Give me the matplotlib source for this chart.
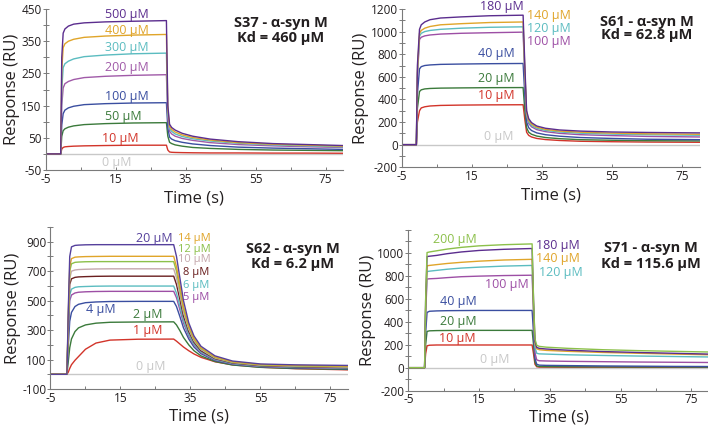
import matplotlib
matplotlib.use("Agg")
import matplotlib.pyplot as plt
from matplotlib.ticker import MultipleLocator, FixedLocator

plt.rcParams['font.family'] = ['Open Sans', 'DejaVu Sans']
plt.rcParams['axes.unicode_minus'] = False

# ---------------- colours ----------------
RED = '#d2342a'; GREEN = '#3b7a3b'; BLUE = '#3a4ea0'; PINKPUR = '#a05aa8'
TEAL = '#5bbcc0'; GOLD = '#e0a52a'; DKPUR = '#5b2d8e'; GRAY = '#c8c8c8'
LTGREEN = '#8cc04a'; PINKGRAY = '#c4a8ac'; MAROON = '#6a1e1e'; PUR = '#9d4fa5'
TXT = '#231f20'

# ---------------- S37 ----------------
s37_t = [-5, -0.7, -0.4, 0, 0.5, 1.5, 3, 6, 12, 20, 29.5, 29.9, 30.4, 31, 32, 34, 37, 42, 50, 60, 70, 80]
s37_labels = ['10 µM', '50 µM', '100 µM', '200 µM', '300 µM', '400 µM', '500 µM']
s37_curves = [
    [0, 0, 15, 20, 22, 23, 24, 25, 26, 27, 27, 12, 6, 5, 4.5, 4, 3.5, 3, 3, 2.5, 2.5, 2],
    [0, 0, 55, 72, 78, 83, 87, 91, 94, 96, 97, 55, 36, 32, 28, 24, 20, 17, 14, 12, 11, 10],
    [0, 0, 90, 125, 136, 143, 148, 153, 156, 158, 159, 80, 52, 46, 41, 36, 31, 26, 21, 18, 16, 14],
    [0, 0, 150, 205, 218, 225, 231, 237, 241, 244, 246, 110, 70, 62, 55, 48, 42, 35, 29, 25, 22, 20],
    [0, 0, 200, 268, 280, 288, 295, 302, 307, 311, 313, 125, 78, 70, 62, 54, 47, 40, 33, 28, 25, 22],
    [0, 0, 260, 330, 342, 350, 356, 362, 366, 369, 371, 140, 85, 76, 68, 59, 51, 43, 35, 30, 27, 24],
    [0, 0, 300, 375, 388, 397, 403, 407, 410, 412, 414, 150, 92, 82, 74, 64, 55, 46, 38, 32, 29, 26],
]
s37_colors = [RED, GREEN, BLUE, PINKPUR, TEAL, GOLD, DKPUR]
s37_label_x = [11, 12, 12, 12, 12, 12, 12]
s37_label_y = [49, 117, 179, 268, 330, 382, 432]
s37_label_size = [9, 9, 9, 9, 9, 9, 9]

# ---------------- S61 ----------------
s61_t = [-5, -0.9, -0.6, 0, 0.5, 1.5, 3, 6, 12, 20, 29.6, 30.1, 30.6, 31.2, 32, 33.5, 36, 40, 46, 55, 65, 80]
s61_labels = ['10 µM', '20 µM', '40 µM', '100 µM', '120 µM', '140 µM', '180 µM']
s61_curves = [
    [0, 0, 200, 300, 325, 335, 342, 347, 350, 352, 353, 220, 110, 82, 68, 55, 45, 37, 30, 26, 23, 21],
    [0, 0, 320, 470, 485, 493, 497, 500, 502, 504, 505, 300, 150, 110, 92, 76, 63, 53, 44, 39, 35, 33],
    [0, 0, 450, 670, 690, 700, 705, 710, 713, 716, 718, 430, 200, 150, 125, 104, 88, 75, 63, 55, 48, 44],
    [0, 0, 600, 930, 950, 962, 970, 978, 985, 990, 995, 590, 250, 188, 158, 133, 115, 100, 88, 80, 73, 68],
    [0, 0, 630, 960, 985, 1000, 1010, 1020, 1030, 1038, 1042, 620, 265, 200, 170, 145, 126, 112, 101, 93, 88, 83],
    [0, 0, 650, 985, 1010, 1030, 1045, 1060, 1070, 1080, 1085, 650, 280, 215, 182, 155, 135, 120, 110, 102, 96, 92],
    [0, 0, 700, 1020, 1060, 1085, 1105, 1120, 1130, 1140, 1145, 700, 300, 230, 195, 165, 145, 130, 120, 112, 108, 104],
]
s61_colors = [RED, GREEN, BLUE, PUR, TEAL, GOLD, DKPUR]
s61_label_x = [16.6, 16.6, 16.6, 30.8, 30.8, 30.7, 17.2]
s61_label_y = [433, 587, 809, 912, 1031, 1144, 1224]
s61_label_size = [9, 9, 9, 9, 9, 9, 9]

# ---------------- S62 ----------------
s62_t = [-5, -0.3, 0.1, 0.5, 1, 2, 3, 5, 8, 12, 20, 30.2, 31, 32, 33, 34.5, 36, 38, 42, 47, 55, 65, 80]
s62_labels = ['1 µM', '2 µM', '4 µM', '5 µM', '6 µM', '8 µM', '10 µM', '12 µM', '14 µM', '20 µM']
s62_curves = [
    [0, 0, 15, 40, 65, 95, 120, 170, 212, 232, 238, 239, 225, 205, 185, 160, 138, 115, 85, 64, 48, 38, 30],
    [0, 0, 90, 180, 240, 290, 315, 335, 347, 353, 355, 356, 335, 295, 250, 200, 160, 125, 87, 63, 47, 39, 33],
    [0, 0, 200, 360, 420, 460, 475, 486, 491, 494, 495, 495, 460, 390, 315, 240, 185, 140, 94, 68, 51, 43, 37],
    [0, 0, 280, 500, 538, 552, 557, 560, 562, 563, 563, 563, 520, 435, 348, 260, 198, 147, 98, 71, 53, 46, 40],
    [0, 0, 300, 540, 578, 590, 594, 596, 598, 599, 599, 599, 550, 460, 365, 270, 205, 152, 101, 73, 55, 48, 42],
    [0, 0, 340, 610, 648, 658, 661, 663, 665, 666, 666, 666, 610, 505, 395, 290, 218, 160, 106, 77, 58, 51, 45],
    [0, 0, 370, 650, 700, 708, 711, 713, 715, 716, 716, 716, 655, 540, 420, 305, 228, 168, 110, 80, 61, 54, 48],
    [0, 0, 390, 700, 750, 760, 762, 764, 765, 765, 765, 765, 700, 575, 445, 320, 238, 175, 115, 83, 64, 57, 52],
    [0, 0, 410, 730, 785, 795, 797, 799, 800, 801, 801, 801, 730, 600, 460, 330, 245, 180, 118, 85, 66, 60, 55],
    [0, 0, 450, 800, 865, 875, 877, 879, 880, 880, 880, 880, 800, 650, 500, 350, 260, 190, 125, 90, 70, 64, 60],
]
s62_colors = [RED, GREEN, BLUE, PUR, TEAL, MAROON, PINKGRAY, LTGREEN, GOLD, '#55409c']
s62_label_x = [18.7, 18.7, 5.1, 32.9, 32.9, 32.9, 31.5, 31.5, 31.5, 19.4]
s62_label_y = [299, 405, 441, 522, 602, 688, 777, 849, 925, 925]
s62_label_size = [9, 9, 9, 8, 8, 8, 8, 8, 8, 9]

# ---------------- S71 ----------------
s71_t = [-5, -0.4, -0.1, 0.3, 1, 3, 6, 10, 15, 22, 30, 30.4, 30.8, 31.3, 32, 34, 40, 50, 60, 70, 80]
s71_labels = ['10 µM', '20 µM', '40 µM', '100 µM', '120 µM', '140 µM', '180 µM', '200 µM']
s71_curves = [
    [0, 0, 120, 190, 195, 197, 197, 197, 197, 197, 197, 120, 30, 8, 5, 5, 4, 4, 3, 3, 3],
    [0, 0, 200, 315, 320, 322, 323, 324, 324, 324, 324, 200, 50, 15, 10, 9, 8, 7, 6, 6, 5],
    [0, 0, 300, 480, 490, 493, 495, 496, 497, 497, 497, 300, 80, 30, 22, 20, 18, 15, 13, 11, 10],
    [0, 0, 460, 770, 772, 775, 782, 790, 795, 800, 803, 460, 130, 68, 60, 58, 55, 52, 49, 47, 45],
    [0, 0, 500, 835, 838, 845, 855, 865, 873, 882, 888, 500, 180, 125, 120, 118, 112, 106, 101, 97, 93],
    [0, 0, 520, 885, 888, 895, 905, 915, 925, 935, 941, 520, 210, 165, 156, 150, 142, 132, 125, 118, 112],
    [0, 0, 580, 965, 968, 975, 990, 1005, 1018, 1028, 1035, 580, 230, 176, 168, 162, 152, 140, 132, 125, 118],
    [0, 0, 600, 1000, 1005, 1015, 1030, 1045, 1058, 1068, 1075, 600, 250, 195, 185, 178, 168, 156, 148, 142, 136],
]
s71_colors = [RED, GREEN, BLUE, PUR, TEAL, GOLD, DKPUR, LTGREEN]
s71_label_x = [3.7, 4.0, 4.0, 16.6, 31.9, 31.0, 31.0, 2.1]
s71_label_y = [256, 403, 574, 726, 824, 950, 1065, 1109]
s71_label_size = [9, 9, 9, 9, 9, 9, 9, 9]

zero_t = [-5, 80]
zero_y = [0, 0]

titles = [('S37 - α-syn M', 'Kd = 460 µM'), ('S61 - α-syn M', 'Kd = 62.8 µM'),
          ('S62 - α-syn M', 'Kd = 6.2 µM'), ('S71 - α-syn M', 'Kd = 115.6 µM')]

fig = plt.figure(figsize=(7.08, 4.25), dpi=100)

panels = [
    dict(rect=[0.0645, 0.600, 0.4202, 0.3788], ylim=(-50, 450), major=FixedLocator([-50, 50, 150, 250, 350, 450]), minor=MultipleLocator(50),
         t=s37_t, curves=s37_curves, colors=s37_colors, labels=s37_labels, lx=s37_label_x, ly=s37_label_y, ls=s37_label_size,
         zx=11, zy=-27, title=titles[0], tx=0.791, ty=(0.915, 0.818), xpad=3.5),
    dict(rect=[0.5678, 0.6064, 0.4202, 0.3725], ylim=(-200, 1200), major=MultipleLocator(200), minor=MultipleLocator(100),
         t=s61_t, curves=s61_curves, colors=s61_colors, labels=s61_labels, lx=s61_label_x, ly=s61_label_y, ls=s61_label_size,
         zx=18.3, zy=68, title=titles[1], tx=0.823, ty=(0.92, 0.834), xpad=3.5),
    dict(rect=[0.0713, 0.0847, 0.4202, 0.3812], ylim=(-100, 1000), major=FixedLocator([-100, 100, 300, 500, 700, 900]), minor=MultipleLocator(100),
         t=s62_t, curves=s62_curves, colors=s62_colors, labels=s62_labels, lx=s62_label_x, ly=s62_label_y, ls=s62_label_size,
         zx=19.3, zy=52, title=titles[2], tx=0.814, ty=(0.866, 0.773), xpad=2.5),
    dict(rect=[0.5767, 0.0807, 0.4247, 0.3793], ylim=(-200, 1200), major=FixedLocator([-200, 0, 200, 400, 600, 800, 1000]), minor=MultipleLocator(100),
         t=s71_t, curves=s71_curves, colors=s71_colors, labels=s71_labels, lx=s71_label_x, ly=s71_label_y, ls=s71_label_size,
         zx=15.2, zy=74, title=titles[3], tx=0.806, ty=(0.885, 0.788), xpad=2.0),
]

for p in panels:
    ax = fig.add_axes(p['rect'])
    ax.set_xlim(-5, 80)
    ax.set_ylim(*p['ylim'])
    ax.plot(zero_t, zero_y, color=GRAY, lw=1.0, zorder=1)
    for vals, c in zip(p['curves'], p['colors']):
        ax.plot(p['t'], vals, color=c, lw=1.0, zorder=2)
    for lab, c, x, y, fs in zip(p['labels'], p['colors'], p['lx'], p['ly'], p['ls']):
        ax.text(x, y, lab, color=c, fontsize=fs, ha='left', va='center')
    ax.text(p['zx'], p['zy'], '0 µM', color=GRAY, fontsize=9, ha='left', va='center')
    ax.text(p['tx'], p['ty'][0], p['title'][0], transform=ax.transAxes, fontsize=10.5,
            fontweight='bold', color=TXT, ha='center', va='center')
    ax.text(p['tx'], p['ty'][1], p['title'][1], transform=ax.transAxes, fontsize=10.5,
            fontweight='bold', color=TXT, ha='center', va='center')
    for s in ['top', 'right']:
        ax.spines[s].set_visible(False)
    for s in ['left', 'bottom']:
        ax.spines[s].set_color('#7a7a7a')
        ax.spines[s].set_linewidth(0.8)
    ax.xaxis.set_major_locator(FixedLocator([-5, 15, 35, 55, 75]))
    ax.xaxis.set_minor_locator(FixedLocator([5, 25, 45, 65]))
    ax.yaxis.set_major_locator(p['major'])
    ax.yaxis.set_minor_locator(p['minor'])
    ax.tick_params(axis='x', which='both', direction='in', length=2.5, color='#7a7a7a', width=0.7,
                   labelsize=8.5, labelcolor=TXT, pad=2)
    ax.tick_params(axis='y', which='both', direction='inout', length=4, color='#7a7a7a', width=0.7,
                   labelsize=8.5, labelcolor=TXT, pad=1)
    ax.set_xlabel('Time (s)', fontsize=12, color=TXT, labelpad=p['xpad'])
    ax.set_ylabel('Response (RU)', fontsize=12, color=TXT, labelpad=1)

fig.savefig('out.png', dpi=100)
